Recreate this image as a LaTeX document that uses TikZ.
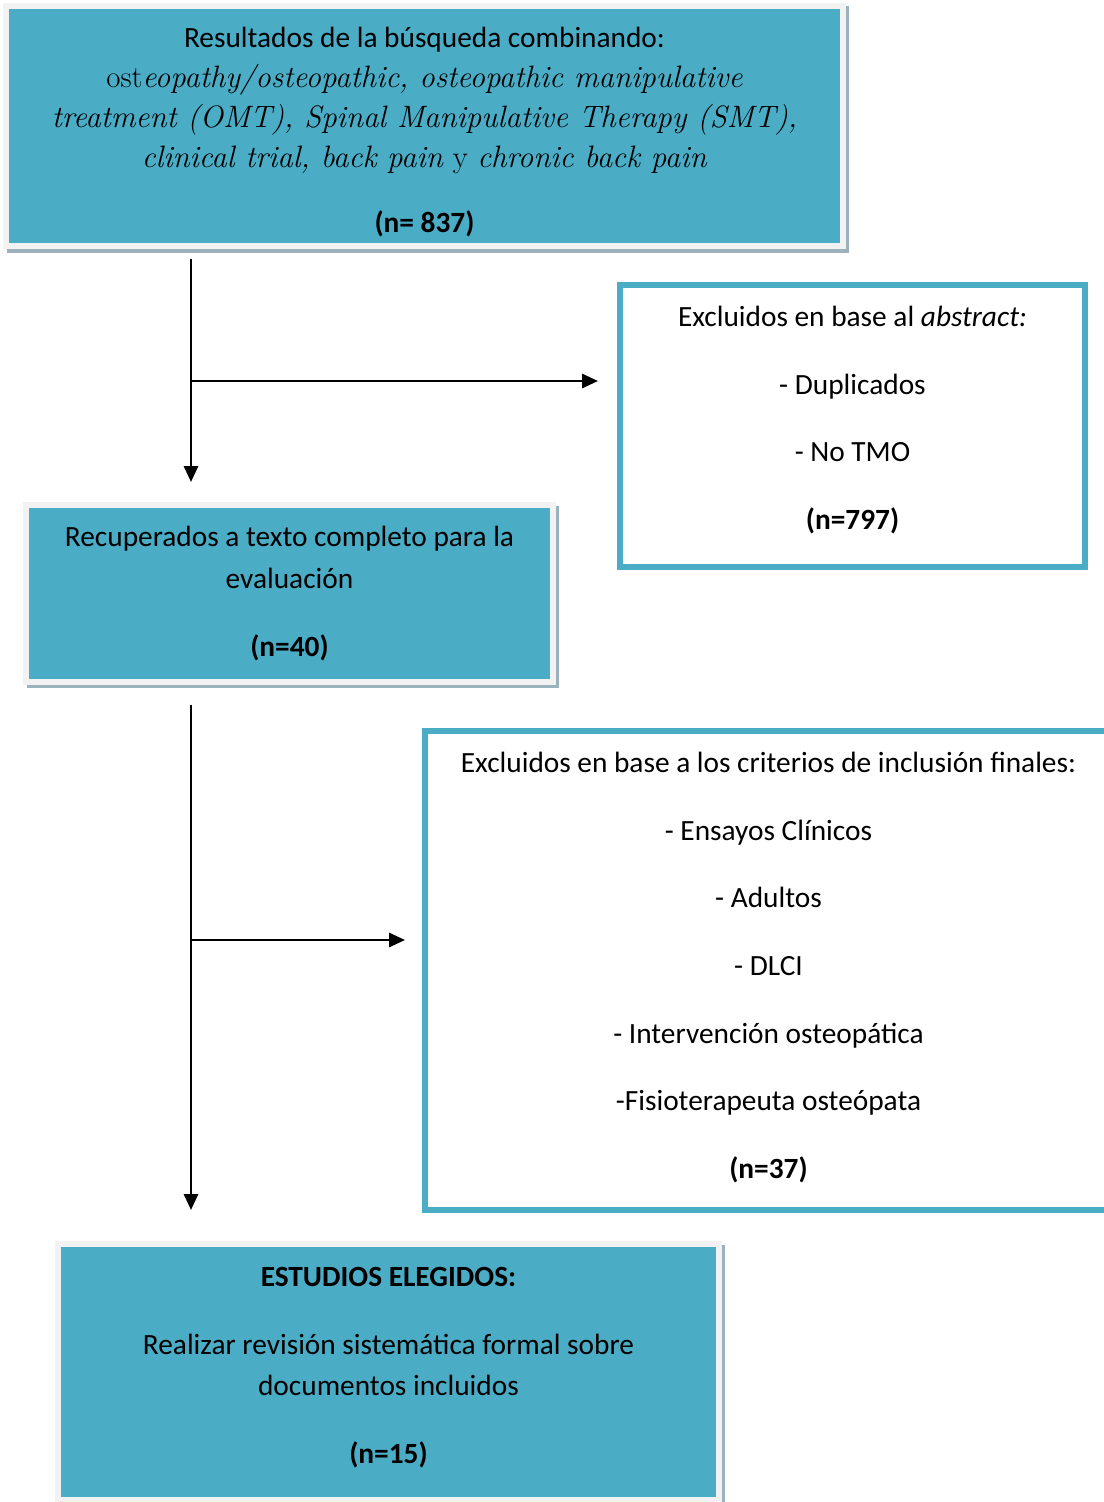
\documentclass[tikz,border=0pt]{standalone}
\usepackage{xcolor}
\usepackage{fontspec}
\setsansfont{Carlito}
\definecolor{mcyan}{HTML}{4BACC6}
\definecolor{mframe}{HTML}{F2F2F2}
\definecolor{mshadow}{HTML}{9BB1BB}
\usepackage{tikz}
\usetikzlibrary{arrows.meta}

\tikzset{
    cajaazul/.style={fill=mcyan, draw=mframe, line width=0.12cm, inner sep=0pt,
        preaction={draw=mshadow, fill=mshadow, line width=0.12cm, transform canvas={xshift=0.07cm, yshift=-0.07cm}}},
    cajablanca/.style={fill=white, draw=mcyan, line width=0.12cm, inner sep=0pt},
    texto/.style={inner sep=0pt, align=center},
    flecha/.style={-{Triangle[length=0.32cm, width=0.28cm]}, line width=0.058cm},
}

\begin{document}
\begin{tikzpicture}[x=0.02cm, y=-0.02cm]
        \useasboundingbox (0, 0) rectangle (1103, 1502);

        \node[cajaazul, minimum width=16.74cm, minimum height=4.82cm] (busqueda) at (424.5, 126) {};
        \node[texto, font=\sffamily\fontsize{16.7}{22.68}\selectfont] (busquedatxt) at (424.5, 132)
            {Resultados de la búsqueda combinando:\\
            {\rmfamily\fontsize{17.6}{22.68}\selectfont ost\textit{eopathy/osteopathic, osteopathic manipulative}}\\
            {\rmfamily\itshape\fontsize{17.6}{22.68}\selectfont treatment (OMT), Spinal Manipulative Therapy (SMT),}\\
            {\rmfamily\fontsize{17.6}{22.68}\selectfont \textit{clinical trial, back pain} y \textit{chronic back pain}}\\[14.2pt]
            \textbf{(n= 837)}};

        \node[cajablanca, minimum width=9.3cm, minimum height=5.64cm] (abstract) at (852.5, 426) {};
        \node[texto, font=\sffamily\fontsize{16.7}{38.55}\selectfont] (abstracttxt) at (852.5, 420)
            {Excluidos en base al \textit{abstract:}\\ - Duplicados\\ - No TMO\\ \textbf{(n=797)}};

        \node[cajaazul, minimum width=10.54cm, minimum height=3.54cm] (recuperados) at (289.5, 593.5) {};
        \node[texto, font=\sffamily\fontsize{16.7}{23.8}\selectfont] (recuperadostxt) at (289.5, 593.5)
            {Recuperados a texto completo para la\\ evaluación\\[14.75pt] \textbf{(n=40)}};

        \node[cajablanca, minimum width=13.74cm, minimum height=9.58cm] (criterios) at (768.5, 970.5) {};
        \node[texto, font=\sffamily\fontsize{16.7}{38.55}\selectfont] (criteriostxt) at (768.5, 967.5)
            {Excluidos en base a los criterios de inclusión finales:\\ - Ensayos Clínicos\\ - Adultos\\ - DLCI\\
            - Intervención osteopática\\ -Fisioterapeuta osteópata\\ \textbf{(n=37)}};

        \node[cajaazul, minimum width=13.22cm, minimum height=5.12cm] (elegidos) at (388.5, 1372) {};
        \node[texto, font=\sffamily\fontsize{16.7}{23.2}\selectfont] (elegidostxt) at (388.5, 1367.5)
            {\textbf{ESTUDIOS ELEGIDOS:}\\[15.35pt] Realizar revisión sistemática formal sobre\\
            documentos incluidos\\[15.35pt] \textbf{(n=15)}};

        \coordinate (eje) at (191, 0);
        \coordinate (rama1) at (191, 381);
        \coordinate (rama2) at (191, 940);

        \draw[flecha, shorten <=0.2cm, shorten >=0.4cm] (busqueda.south -| eje) -- (recuperados.north -| eje);
        \draw[flecha, shorten >=0.38cm] (rama1) -- (rama1 -| abstract.west);
        \draw[flecha, shorten <=0.4cm, shorten >=0.62cm] (recuperados.south -| eje) -- (elegidos.north -| eje);
        \draw[flecha, shorten >=0.34cm] (rama2) -- (rama2 -| criterios.west);
    \end{tikzpicture}
\end{document}
